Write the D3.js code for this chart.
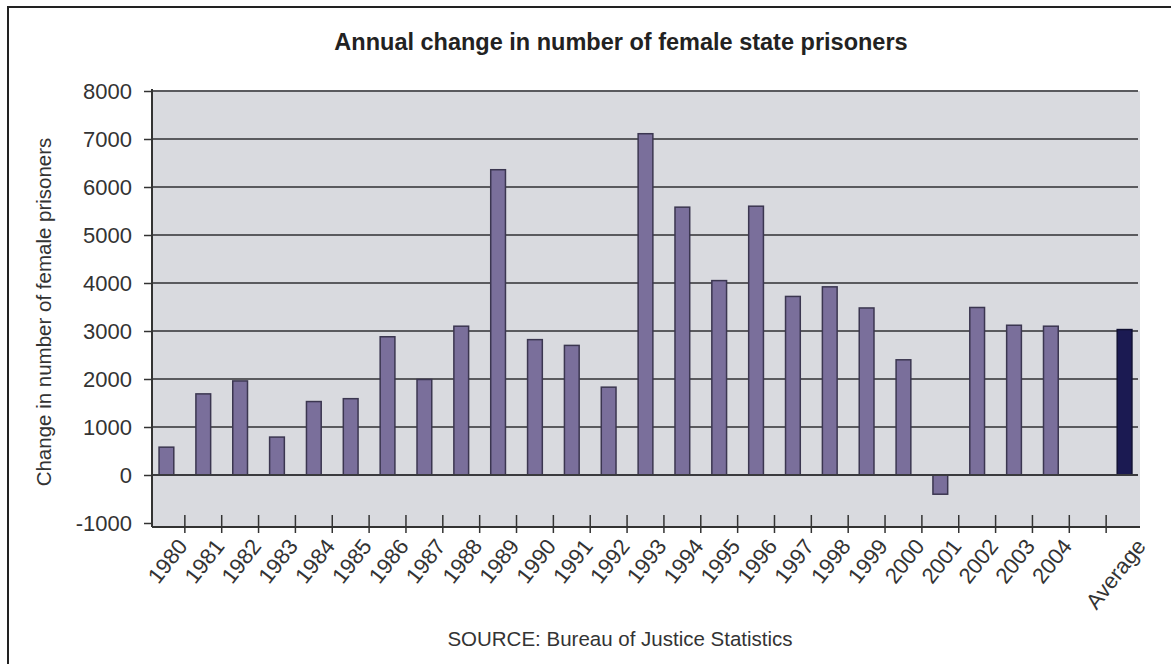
<!DOCTYPE html>
<html>
<head>
    <meta charset="utf-8">
    <title>female-state-prisoners</title>
    <style>
body { margin: 0; background: #fff; font-family: "Liberation Sans", Arial, sans-serif; }
.bar { fill: #7a6f9b; stroke: #3b3650; stroke-width: 1.5; }
.barAvg { fill: #1b1a52; stroke: #111133; stroke-width: 1.5; }
.grid line { stroke: #5a5a5e; stroke-width: 2; }
.tickLabel { font-size: 22px; fill: #333; }
</style>
</head>
<body>
<script src="https://cdn.jsdelivr.net/npm/d3@7"></script>
<script>
/* Data */
var years = ["1980", "1981", "1982", "1983", "1984", "1985", "1986", "1987", "1988", "1989",
             "1990", "1991", "1992", "1993", "1994", "1995", "1996", "1997", "1998", "1999",
             "2000", "2001", "2002", "2003", "2004"];
var changes = [580, 1690, 1960, 790, 1530, 1590, 2880, 1990, 3100, 6360,
               2820, 2700, 1830, 7110, 5580, 4050, 5600, 3720, 3920, 3480,
               2400, -400, 3490, 3120, 3100];
var averageLabel = "Average";
var averageValue = 3030;
var yTicks = [-1000, 0, 1000, 2000, 3000, 4000, 5000, 6000, 7000, 8000];

/* one empty slot between 2004 and the average */
var categories = years.concat([" ", averageLabel]);

var W = 1171, H = 664;
var plot = { left: 152, right: 1138, top: 91, bottom: 527 };

var svg = d3.select("body").append("svg")
    .attr("width", W)
    .attr("height", H);

// frame (only left and top edges are inside the picture)
svg.append("rect")
    .attr("x", 8).attr("y", 7)
    .attr("width", W + 20).attr("height", H + 20)
    .attr("fill", "none").attr("stroke", "#222").attr("stroke-width", 2);

var x = d3.scaleBand()
    .domain(categories)
    .range([148, 1143])
    .paddingInner(0.6)
    .paddingOuter(0.3);

var y = d3.scaleLinear()
    .domain([-1000, 8000])
    .range([523, plot.top]);

// plot background
svg.append("rect")
    .attr("x", plot.left).attr("y", plot.top)
    .attr("width", plot.right + 2 - plot.left).attr("height", plot.bottom - plot.top)
    .attr("fill", "#d9dadf");

// horizontal gridlines
svg.append("g")
    .attr("class", "grid")
    .selectAll("line")
    .data(yTicks.filter(function (d) { return d > -1000; }))
    .enter().append("line")
    .attr("x1", plot.left).attr("x2", plot.right)
    .attr("y1", function (d) { return y(d); })
    .attr("y2", function (d) { return y(d); });

// yearly bars
svg.selectAll(".bar")
    .data(years)
    .enter().append("rect")
    .attr("class", "bar")
    .attr("x", function (d) { return x(d); })
    .attr("width", x.bandwidth())
    .attr("y", function (d, i) { return y(Math.max(0, changes[i])); })
    .attr("height", function (d, i) { return Math.abs(y(changes[i]) - y(0)); });

// average bar
svg.append("rect")
    .attr("class", "barAvg")
    .attr("x", x(averageLabel))
    .attr("width", x.bandwidth())
    .attr("y", y(averageValue))
    .attr("height", y(0) - y(averageValue));

// zero line on top of bars
svg.append("line")
    .attr("x1", plot.left).attr("x2", plot.right)
    .attr("y1", y(0)).attr("y2", y(0))
    .attr("stroke", "#3a3a3e").attr("stroke-width", 2);

// y axis (plain hyphen for the negative tick, like the original)
var yAxis = svg.append("g")
    .attr("transform", "translate(" + plot.left + ",0)")
    .call(d3.axisLeft(y).tickValues(yTicks).tickFormat(function (d) { return String(d); })
        .tickSize(8).tickPadding(12));
yAxis.select(".domain").remove();
yAxis.selectAll("line").attr("stroke", "#333").attr("stroke-width", 1.5);
yAxis.selectAll("text").attr("class", "tickLabel").style("font-size", "22px")
    .style("font-family", "'Liberation Sans', Arial, sans-serif");
svg.append("line")
    .attr("x1", plot.left).attr("x2", plot.left)
    .attr("y1", plot.top - 2).attr("y2", plot.bottom)
    .attr("stroke", "#333").attr("stroke-width", 2);

// x axis line and ticks between categories
svg.append("line")
    .attr("x1", plot.left).attr("x2", plot.right + 2)
    .attr("y1", plot.bottom).attr("y2", plot.bottom)
    .attr("stroke", "#333").attr("stroke-width", 2);
svg.append("g").selectAll("line")
    .data(categories.slice(1))
    .enter().append("line")
    .attr("x1", function (d) { return x(d) - x.step() * x.paddingInner() / 2; })
    .attr("x2", function (d) { return x(d) - x.step() * x.paddingInner() / 2; })
    .attr("y1", plot.bottom - 12).attr("y2", plot.bottom + 6)
    .attr("stroke", "#333").attr("stroke-width", 1.5);

// rotated category labels
svg.append("g").selectAll("text")
    .data(categories.filter(function (d) { return d.trim() !== ""; }))
    .enter().append("text")
    .attr("class", "tickLabel")
    .attr("text-anchor", "end")
    .attr("transform", function (d) {
        return "translate(" + (x(d) + x.bandwidth() / 2 + 10) + "," + (plot.bottom + 10) + ") rotate(-52)";
    })
    .attr("dy", "0.7em")
    .text(function (d) { return d; });

// title
svg.append("text")
    .attr("x", 621).attr("y", 50)
    .attr("text-anchor", "middle")
    .style("font-size", "23.5px").style("font-weight", "bold").attr("fill", "#222")
    .text("Annual change in number of female state prisoners");

// y axis title
svg.append("text")
    .attr("transform", "translate(51," + 312 + ") rotate(-90)")
    .attr("text-anchor", "middle")
    .style("font-size", "20.5px").attr("fill", "#333")
    .text("Change in number of female prisoners");

// source line
svg.append("text")
    .attr("x", 620).attr("y", 646)
    .attr("text-anchor", "middle")
    .style("font-size", "20.5px").attr("fill", "#333")
    .text("SOURCE: Bureau of Justice Statistics");
</script>
</body>
</html>
